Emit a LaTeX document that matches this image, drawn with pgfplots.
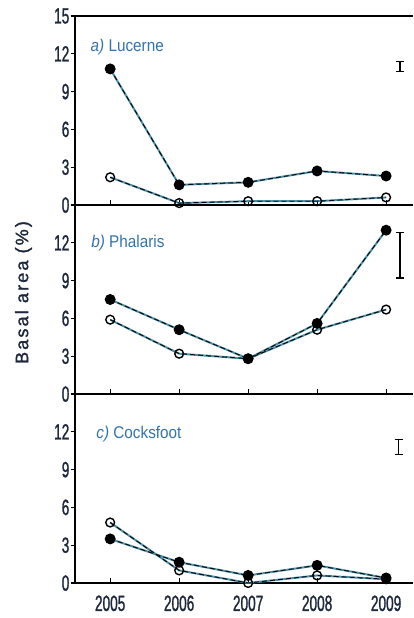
\documentclass[border=0pt]{standalone}
\usepackage{fontspec}
\setmainfont{Liberation Sans}
\newfontfamily\tickfont{Liberation Sans}[FakeStretch=0.62, FakeBold=1.2]
\newfontfamily\panelfont{Liberation Sans}[FakeStretch=0.9]
\newfontfamily\labfont{Liberation Sans}[LetterSpace=12, FakeBold=1.5]
\usepackage{pgfplots}
\pgfplotsset{compat=1.18}
\usepackage{pgfplotstable}

\definecolor{tickcol}{RGB}{30,40,60}
\definecolor{labcol}{RGB}{50,115,175}
\definecolor{linecol}{RGB}{75,145,170}

\pgfplotstableread{
x f o
2005 10.8 2.2
2006 1.6 0.15
2007 1.8 0.3
2008 2.7 0.3
2009 2.3 0.6
}\tabA
\pgfplotstableread{
x f o
2005 7.5 5.9
2006 5.1 3.2
2007 2.8 2.8
2008 5.6 5.1
2009 13.0 6.7
}\tabB
\pgfplotstableread{
x f o
2005 3.5 4.8
2006 1.65 1.0
2007 0.6 0.0
2008 1.4 0.6
2009 0.4 0.3
}\tabC
\pgfplotstableread{
x y e
2009.2 11.0 0.4
}\errA
\pgfplotstableread{
x y e
2009.2 11.0 1.8
}\errB
\pgfplotstableread{
x y e
2009.18 10.8 0.6
}\errC

\tikzset{plab/.style={anchor=base west, font=\panelfont\fontsize{17}{17}\selectfont, text=labcol}}
\pgfplotsset{
  panel/.style={
    at={(75pt,#1)}, anchor=south west,
    scale only axis, width=338pt, height=189pt,
    xmin=2004.49, xmax=2009.39, ymin=0, ymax=15,
    axis x line*=box, axis y line*=left,
    axis line style={line width=1.5pt, black},
    xtick={2005,2006,2007,2008,2009},
    xtick pos=left,
    xtick align=inside, ytick align=outside,
    major tick length=4.5pt,
    tick style={line width=1.1pt, black},
    /pgf/number format/assume math mode=true,
    tick label style={font=\tickfont\fontsize{22}{22}\selectfont, text=tickcol},
    yticklabel style={inner sep=1pt},
    xticklabel style={yshift=-9pt},
    clip=false,
  },
  bg/.style={linecol, line width=2pt, mark=none},
  fser/.style={black, line width=0.9pt, dash pattern=on 5pt off 3pt, mark=*, mark size=5pt, mark options={solid, fill=black}},
  oser/.style={black, line width=0.9pt, dash pattern=on 5pt off 3pt, mark=o, mark size=4.4pt, mark options={solid, line width=1.4pt, fill=white}},
  ebar/.style={black, mark=none, line width=1.2pt,
    error bars/.cd, y dir=both, y explicit,
    error bar style={line width=1.3pt, black},
    error mark options={rotate=90, mark size=4pt, line width=1.3pt, black}},
}

\begin{document}
\begin{tikzpicture}
% panel a
\begin{axis}[panel=413pt, ytick={0,3,6,9,12,15}, xticklabels={}]
  \addplot[bg] table[x=x,y=f]{\tabA};
  \addplot[bg] table[x=x,y=o]{\tabA};
  \addplot[oser] table[x=x,y=o]{\tabA};
  \addplot[fser] table[x=x,y=f]{\tabA};
  \addplot[ebar] table[x=x,y=y,y error=e]{\errA};
  \node[plab] at (rel axis cs:0.036,0.813) {\textit{a)} Lucerne};
\end{axis}
% panel b
\begin{axis}[panel=224pt, ytick={0,3,6,9,12}, xticklabels={}]
  \addplot[bg] table[x=x,y=f]{\tabB};
  \addplot[bg] table[x=x,y=o]{\tabB};
  \addplot[oser] table[x=x,y=o]{\tabB};
  \addplot[fser] table[x=x,y=f]{\tabB};
  \addplot[ebar] table[x=x,y=y,y error=e]{\errB};
  \node[plab] at (rel axis cs:0.038,0.773) {\textit{b)} Phalaris};
\end{axis}
% panel c
\begin{axis}[panel=35pt, ytick={0,3,6,9,12}, xticklabels={2005,2006,2007,2008,2009}]
  \addplot[bg] table[x=x,y=f]{\tabC};
  \addplot[bg] table[x=x,y=o]{\tabC};
  \addplot[oser] table[x=x,y=o]{\tabC};
  \addplot[fser] table[x=x,y=f]{\tabC};
  \addplot[ebar] table[x=x,y=y,y error=e]{\errC};
  \node[plab] at (rel axis cs:0.053,0.763) {\textit{c)} Cocksfoot};
\end{axis}
\node[rotate=90, font=\labfont\fontsize{18}{18}\selectfont, text=tickcol] at (23.5pt,325.5pt) {Basal area (\%)};
\pgfresetboundingbox
\path[use as bounding box] (0pt,0pt) rectangle (413pt,618pt);
\end{tikzpicture}
\end{document}
